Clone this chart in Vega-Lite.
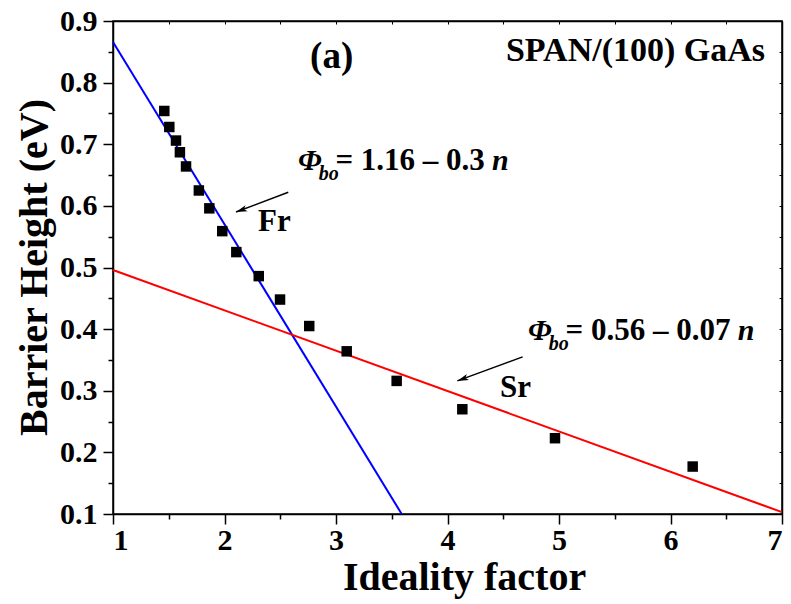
{
  "$schema": "https://vega.github.io/schema/vega-lite/v6.json",
  "width": 669,
  "height": 493,
  "autosize": {"type": "none"},
  "padding": {"left": 113, "top": 21, "right": 9, "bottom": 90},
  "background": "white",
  "config": {
    "view": {"stroke": "black", "strokeWidth": 1.5},
    "font": "Liberation Serif",
    "axis": {
      "domainColor": "black",
      "domainWidth": 1.5,
      "tickColor": "black",
      "tickWidth": 1.5,
      "labelColor": "black",
      "labelFont": "Liberation Serif",
      "labelFontWeight": "bold",
      "labelFontSize": 30,
      "titleFont": "Liberation Serif",
      "titleFontWeight": "bold",
      "titleFontSize": 40,
      "titleColor": "black",
      "grid": false
    }
  },
  "datasets": {
    "points": [
      {"n": 1.46, "phi": 0.754},
      {"n": 1.505, "phi": 0.728},
      {"n": 1.565, "phi": 0.706},
      {"n": 1.6, "phi": 0.687},
      {"n": 1.655, "phi": 0.664},
      {"n": 1.77, "phi": 0.625},
      {"n": 1.864, "phi": 0.596},
      {"n": 1.98, "phi": 0.559},
      {"n": 2.106, "phi": 0.525},
      {"n": 2.307, "phi": 0.486},
      {"n": 2.498, "phi": 0.448},
      {"n": 2.76, "phi": 0.405},
      {"n": 3.096, "phi": 0.364},
      {"n": 3.544, "phi": 0.316},
      {"n": 4.133, "phi": 0.27},
      {"n": 4.964, "phi": 0.223},
      {"n": 6.199, "phi": 0.177}
    ],
    "fits": [
      {"fit": "Fr", "n": 1, "phi": 0.866},
      {"fit": "Fr", "n": 3.589, "phi": 0.1},
      {"fit": "Sr", "n": 1, "phi": 0.496},
      {"fit": "Sr", "n": 7, "phi": 0.103}
    ],
    "arrows": [
      {"arrow": "Fr", "n1": 2.572, "p1": 0.622, "n2": 2.103, "p2": 0.59},
      {"arrow": "Sr", "n1": 4.674, "p1": 0.355, "n2": 4.088, "p2": 0.316}
    ],
    "labels": [
      {"role": "panel", "n": 2.961, "phi": 0.842, "text": "(a)"},
      {"role": "sample", "n": 6.848, "phi": 0.835, "text": "SPAN/(100) GaAs"},
      {"role": "fit", "n": 2.3, "phi": 0.574, "text": "Fr"},
      {"role": "fit", "n": 4.471, "phi": 0.304, "text": "Sr"},
      {"role": "sym", "n": 2.659, "phi": 0.658, "text": "Φ"},
      {"role": "sub", "n": 2.845, "phi": 0.642, "text": "bo"},
      {"role": "eq", "n": 2.995, "phi": 0.658, "text": "= 1.16 – 0.3"},
      {"role": "var", "n": 4.399, "phi": 0.658, "text": "n"},
      {"role": "sym", "n": 4.722, "phi": 0.382, "text": "Φ"},
      {"role": "sub", "n": 4.908, "phi": 0.366, "text": "bo"},
      {"role": "eq", "n": 5.058, "phi": 0.382, "text": "= 0.56 – 0.07"},
      {"role": "var", "n": 6.603, "phi": 0.382, "text": "n"}
    ]
  },
  "layer": [
    {
      "data": {"name": "fits"},
      "mark": {"type": "line", "strokeWidth": 2},
      "encoding": {
        "x": {"field": "n", "type": "quantitative", "scale": {"domain": [1, 7], "nice": false, "zero": false},
          "axis": {"orient": "top", "labels": false, "title": null, "values": [1, 1.5, 2, 2.5, 3, 3.5, 4, 4.5, 5, 5.5, 6, 6.5, 7], "tickSize": -3, "tickWidth": 1}},
        "y": {"field": "phi", "type": "quantitative", "scale": {"domain": [0.1, 0.9], "nice": false, "zero": false},
          "axis": {"orient": "right", "labels": false, "title": null, "values": [0.1, 0.15, 0.2, 0.25, 0.3, 0.35, 0.4, 0.45, 0.5, 0.55, 0.6, 0.65, 0.7, 0.75, 0.8, 0.85, 0.9], "tickSize": -3, "tickWidth": 1}},
        "color": {"field": "fit", "type": "nominal", "scale": {"domain": ["Fr", "Sr"], "range": ["#0000ff", "#ff0000"]}, "legend": null}
      }
    },
    {
      "data": {"name": "points"},
      "mark": {"type": "point", "shape": "square", "filled": true, "color": "black", "size": 110, "opacity": 1},
      "encoding": {
        "x": {"field": "n", "type": "quantitative", "scale": {"domain": [1, 7], "nice": false, "zero": false},
          "axis": {"orient": "bottom", "title": "Ideality factor", "values": [1, 1.5, 2, 2.5, 3, 3.5, 4, 4.5, 5, 5.5, 6, 6.5, 7],
            "labelExpr": "datum.value % 1 == 0 ? format(datum.value, 'd') : ''",
            "tickSize": {"condition": {"test": "datum.value % 1 != 0", "value": 5}, "value": 10},
            "labelPadding": 1, "titleX": 351, "titleY": 75, "titleBaseline": "alphabetic", "titleAnchor": "middle", "titleAlign": "center"}},
        "y": {"field": "phi", "type": "quantitative", "scale": {"domain": [0.1, 0.9], "nice": false, "zero": false},
          "axis": {"orient": "left", "title": "Barrier Height (eV)", "values": [0.1, 0.15, 0.2, 0.25, 0.3, 0.35, 0.4, 0.45, 0.5, 0.55, 0.6, 0.65, 0.7, 0.75, 0.8, 0.85, 0.9],
            "labelExpr": "round(datum.value * 100) % 10 == 0 ? format(datum.value, '.1f') : ''",
            "tickSize": {"condition": {"test": "round(datum.value * 100) % 10 != 0", "value": 5}, "value": 10},
            "labelPadding": 6, "titleX": -67, "titleY": 246, "titleAngle": -90, "titleBaseline": "alphabetic", "titleAlign": "center"}}
      }
    },
    {
      "data": {"name": "arrows"},
      "mark": {"type": "rule", "color": "black", "strokeWidth": 1.5},
      "encoding": {
        "x": {"field": "n1", "type": "quantitative", "axis": null},
        "y": {"field": "p1", "type": "quantitative", "axis": null},
        "x2": {"field": "n2"},
        "y2": {"field": "p2"}
      }
    },
    {
      "data": {"name": "arrows"},
      "mark": {"type": "point", "shape": "M0,0L-0.45,1.6L0,1.2L0.45,1.6Z", "filled": true, "color": "black", "size": 200, "angle": 250, "opacity": 1},
      "encoding": {
        "x": {"field": "n2", "type": "quantitative", "axis": null},
        "y": {"field": "p2", "type": "quantitative", "axis": null}
      }
    },
    {
      "data": {"name": "labels"},
      "transform": [{"filter": "datum.role == 'panel'"}],
      "mark": {"type": "text", "font": "Liberation Serif", "fontWeight": "bold", "fontSize": 37, "align": "center", "baseline": "middle", "color": "black"},
      "encoding": {
        "x": {"field": "n", "type": "quantitative", "axis": null},
        "y": {"field": "phi", "type": "quantitative", "axis": null},
        "text": {"field": "text"}
      }
    },
    {
      "data": {"name": "labels"},
      "transform": [{"filter": "datum.role == 'sample'"}],
      "mark": {"type": "text", "font": "Liberation Serif", "fontWeight": "bold", "fontSize": 34, "align": "right", "baseline": "alphabetic", "color": "black"},
      "encoding": {
        "x": {"field": "n", "type": "quantitative", "axis": null},
        "y": {"field": "phi", "type": "quantitative", "axis": null},
        "text": {"field": "text"}
      }
    },
    {
      "data": {"name": "labels"},
      "transform": [{"filter": "datum.role == 'fit'"}],
      "mark": {"type": "text", "font": "Liberation Serif", "fontWeight": "bold", "fontSize": 31, "align": "left", "baseline": "middle", "color": "black"},
      "encoding": {
        "x": {"field": "n", "type": "quantitative", "axis": null},
        "y": {"field": "phi", "type": "quantitative", "axis": null},
        "text": {"field": "text"}
      }
    },
    {
      "data": {"name": "labels"},
      "transform": [{"filter": "datum.role == 'sym' || datum.role == 'var'"}],
      "mark": {"type": "text", "font": "Liberation Serif", "fontWeight": "bold", "fontStyle": "italic", "fontSize": 30, "align": "left", "baseline": "alphabetic", "color": "black"},
      "encoding": {
        "x": {"field": "n", "type": "quantitative", "axis": null},
        "y": {"field": "phi", "type": "quantitative", "axis": null},
        "text": {"field": "text"}
      }
    },
    {
      "data": {"name": "labels"},
      "transform": [{"filter": "datum.role == 'sub'"}],
      "mark": {"type": "text", "font": "Liberation Serif", "fontWeight": "bold", "fontStyle": "italic", "fontSize": 20, "align": "left", "baseline": "alphabetic", "color": "black"},
      "encoding": {
        "x": {"field": "n", "type": "quantitative", "axis": null},
        "y": {"field": "phi", "type": "quantitative", "axis": null},
        "text": {"field": "text"}
      }
    },
    {
      "data": {"name": "labels"},
      "transform": [{"filter": "datum.role == 'eq'"}],
      "mark": {"type": "text", "font": "Liberation Serif", "fontWeight": "bold", "fontSize": 31, "align": "left", "baseline": "alphabetic", "color": "black"},
      "encoding": {
        "x": {"field": "n", "type": "quantitative", "axis": null},
        "y": {"field": "phi", "type": "quantitative", "axis": null},
        "text": {"field": "text"}
      }
    }
  ],
  "resolve": {"axis": {"x": "independent", "y": "independent"}}
}
